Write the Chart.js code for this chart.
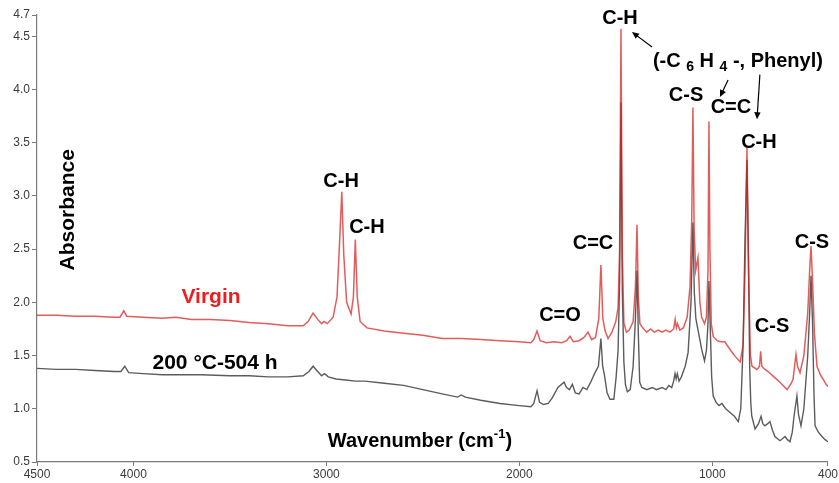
<!DOCTYPE html>
<html><head><meta charset="utf-8">
<script src="https://cdn.jsdelivr.net/npm/chart.js@4.4.1/dist/chart.umd.min.js"></script>
<style>html,body{margin:0;padding:0;background:#fff;overflow:hidden}#wrap{width:839px;height:483px;position:relative}</style>
</head><body><div id="wrap"><canvas id="c" width="839" height="483"></canvas></div>
<script>
// ---------- data ----------
const xTickValues = [4500, 4000, 3000, 2000, 1000, 400];
const yTickValues = [0.5, 1.0, 1.5, 2.0, 2.5, 3.0, 3.5, 4.0, 4.5, 4.7];
const seriesNames = ['Virgin', '200 \u00B0C-504 h'];

const virginWavenumber = [4500,4400,4300,4200,4100,4070,4050,4035,3950,3850,3780,3700,3600,3500,3400,3300,3200,3120,3095,3069,3045,3025,3012,2995,2965,2945,2932,2920,2910,2895,2872,2860,2850,2840,2825,2790,2700,2600,2500,2400,2300,2200,2100,2000,1940,1925,1908,1892,1860,1820,1780,1755,1737,1720,1690,1665,1644,1625,1605,1588,1577,1567,1555,1540,1520,1500,1488,1480,1473,1466,1458,1445,1430,1410,1398,1390,1383,1375,1360,1340,1320,1300,1280,1260,1240,1220,1200,1192,1186,1180,1168,1150,1130,1115,1106,1100,1094,1086,1074,1064,1055,1040,1030,1022,1017,1012,1005,995,975,955,935,905,880,855,840,830,820,812,802,794,768,755,749,743,727,711,680,649,612,590,581,573,566,558,545,525,505,495,488,480,470,457,440,426,410,400];
const virginAbsorbance = [1.88,1.88,1.87,1.87,1.86,1.86,1.92,1.87,1.86,1.85,1.86,1.84,1.84,1.83,1.81,1.80,1.78,1.78,1.82,1.90,1.84,1.80,1.82,1.80,1.86,2.05,2.55,3.04,2.45,2.00,1.89,2.05,2.59,2.05,1.82,1.76,1.73,1.71,1.69,1.66,1.66,1.65,1.64,1.63,1.62,1.65,1.73,1.64,1.62,1.63,1.62,1.64,1.68,1.63,1.64,1.67,1.72,1.65,1.67,1.85,2.35,1.85,1.73,1.66,1.72,1.82,1.95,2.50,4.57,2.45,1.81,1.72,1.74,1.82,2.15,2.73,2.05,1.80,1.76,1.72,1.75,1.72,1.74,1.72,1.74,1.72,1.75,1.84,1.76,1.80,1.74,1.76,1.86,2.15,2.80,3.83,2.70,2.30,2.42,2.00,1.86,1.80,1.86,2.30,3.70,2.50,1.80,1.68,1.64,1.63,1.63,1.55,1.49,1.44,1.60,2.30,3.45,2.30,1.50,1.40,1.37,1.40,1.54,1.40,1.37,1.35,1.30,1.25,1.18,1.24,1.28,1.40,1.51,1.40,1.34,1.50,1.90,2.30,2.53,2.20,1.70,1.40,1.32,1.28,1.23,1.21];

const agedWavenumber = [4500,4400,4300,4200,4100,4065,4045,4025,3950,3850,3750,3650,3500,3400,3300,3200,3120,3090,3069,3045,3025,3010,2990,2950,2900,2850,2800,2700,2600,2500,2400,2320,2300,2280,2200,2100,2000,1940,1925,1908,1895,1875,1850,1830,1800,1768,1755,1740,1725,1710,1690,1670,1650,1630,1610,1590,1577,1568,1558,1545,1530,1510,1498,1488,1480,1473,1466,1458,1450,1440,1425,1410,1398,1390,1383,1376,1365,1340,1310,1290,1260,1240,1225,1210,1200,1193,1187,1181,1172,1160,1140,1125,1110,1100,1093,1085,1075,1065,1055,1040,1030,1022,1017,1010,1003,995,980,965,950,930,905,885,865,852,840,830,820,812,806,800,795,778,760,747,738,727,712,701,688,675,649,635,623,610,597,585,576,561,553,540,525,505,495,488,480,472,467,450,431,415,400];
const agedAbsorbance = [1.38,1.37,1.37,1.36,1.35,1.35,1.40,1.34,1.33,1.32,1.32,1.32,1.31,1.31,1.30,1.30,1.31,1.35,1.40,1.35,1.31,1.33,1.30,1.28,1.27,1.26,1.26,1.24,1.22,1.18,1.14,1.11,1.13,1.11,1.08,1.05,1.03,1.02,1.05,1.17,1.06,1.04,1.05,1.10,1.20,1.25,1.20,1.18,1.23,1.15,1.14,1.20,1.18,1.25,1.33,1.40,1.66,1.40,1.31,1.15,1.09,1.09,1.30,1.55,2.20,3.88,2.10,1.44,1.23,1.16,1.18,1.40,1.85,2.30,1.70,1.25,1.20,1.18,1.20,1.18,1.20,1.18,1.22,1.20,1.26,1.33,1.28,1.33,1.26,1.30,1.40,1.53,2.00,2.75,2.10,1.85,1.75,1.66,1.56,1.45,1.55,1.80,2.20,1.75,1.30,1.12,1.06,1.03,1.05,1.00,0.96,0.93,0.88,1.00,1.60,2.60,3.34,2.40,1.40,1.05,0.93,0.81,0.86,0.93,0.86,0.84,0.86,0.88,0.80,0.74,0.70,0.72,0.74,0.71,0.69,0.78,0.93,1.12,0.95,0.84,1.00,1.50,1.90,2.25,1.80,1.10,0.84,0.78,0.74,0.71,0.69];

// annotation texts placed in data units
const peakLabels   = ['C-H', 'C-H', 'C=O', 'C=C', 'C-H', 'C-S', 'C=C', 'C-H', 'C-S', 'C-S'];
const peakLabelWn  = [2924, 2790, 1789, 1618, 1478, 1136, 903, 758, 690, 483];
const peakLabelAbs = [3.14, 2.70, 1.88, 2.55, 4.67, 3.94, 3.83, 3.50, 1.77, 2.56];
const groupLabelPos = [867, 4.26];
const arrowFrom = [[1312, 4.40], [918, 4.09], [753, 4.14]];
const arrowTo   = [[1416, 4.54], [960, 3.93], [768, 3.72]];
const seriesLabelPos = [[3598, 2.05], [3577, 1.43]];
const yTitlePos = [4339, 2.87];
const xTitlePos = [2515, 0.69];

// ---------- chart ----------
const FONT = '"Liberation Sans", Arial, Helvetica, sans-serif';
const toXY = (xs, ys) => xs.map((w, i) => ({x: w, y: ys[i]}));

function drawArrow(ctx, x1, y1, x2, y2) {
  const a = Math.atan2(y2 - y1, x2 - x1), h = 7, s = 3.2;
  ctx.beginPath(); ctx.moveTo(x1, y1);
  ctx.lineTo(x2 - Math.cos(a) * h * 0.8, y2 - Math.sin(a) * h * 0.8); ctx.stroke();
  ctx.beginPath(); ctx.moveTo(x2, y2);
  ctx.lineTo(x2 - h * Math.cos(a) + s * Math.sin(a), y2 - h * Math.sin(a) - s * Math.cos(a));
  ctx.lineTo(x2 - h * Math.cos(a) - s * Math.sin(a), y2 - h * Math.sin(a) + s * Math.cos(a));
  ctx.closePath(); ctx.fill();
}

function drawPieces(ctx, pieces, cx, cy) {
  let total = 0;
  pieces.forEach(p => { ctx.font = 'bold ' + p[1] + 'px ' + FONT; total += ctx.measureText(p[0]).width; });
  let x = cx - total / 2;
  ctx.textAlign = 'left';
  pieces.forEach(p => {
    ctx.font = 'bold ' + p[1] + 'px ' + FONT;
    ctx.fillText(p[0], x, cy + p[2]);
    x += ctx.measureText(p[0]).width;
  });
}

const annotPlugin = {
  id: 'annot',
  afterDatasetsDraw(chart) {
    const {ctx, scales: {x, y}} = chart;
    const px = w => x.getPixelForValue(w), py = v => y.getPixelForValue(v);
    ctx.save();
    ctx.fillStyle = '#000'; ctx.strokeStyle = '#000'; ctx.lineWidth = 1.2;
    ctx.textAlign = 'center'; ctx.textBaseline = 'middle';
    ctx.font = 'bold 20px ' + FONT;
    peakLabels.forEach((t, i) => ctx.fillText(t, px(peakLabelWn[i]), py(peakLabelAbs[i])));

    drawPieces(ctx, [['(-C ', 20, 0], ['6', 14, 5], [' H ', 20, 0], ['4', 14, 5], [' -, Phenyl)', 20, 0]],
      px(groupLabelPos[0]), py(groupLabelPos[1]));
    arrowFrom.forEach((f, i) => drawArrow(ctx, px(f[0]), py(f[1]), px(arrowTo[i][0]), py(arrowTo[i][1])));

    ctx.textAlign = 'center';
    ctx.font = 'bold 21px ' + FONT;
    ctx.fillStyle = '#ee1c1c';
    ctx.fillText(seriesNames[0], px(seriesLabelPos[0][0]), py(seriesLabelPos[0][1]));
    ctx.fillStyle = '#000';
    ctx.fillText(seriesNames[1], px(seriesLabelPos[1][0]), py(seriesLabelPos[1][1]));

    ctx.save();
    ctx.translate(px(yTitlePos[0]), py(yTitlePos[1]));
    ctx.rotate(-Math.PI / 2);
    ctx.font = 'bold 21px ' + FONT;
    ctx.fillText('Absorbance', 0, 0);
    ctx.restore();
    drawPieces(ctx, [['Wavenumber (cm', 20, 0], ['-1', 13, -7], [')', 20, 0]], px(xTitlePos[0]), py(xTitlePos[1]));
    ctx.restore();
  }
};

const axisColor = '#7a7a7a';
new Chart(document.getElementById('c'), {
  type: 'line',
  data: {
    datasets: [
      {label: seriesNames[0], data: toXY(virginWavenumber, virginAbsorbance),
       borderColor: 'rgba(214,30,30,0.72)', borderWidth: 1.5, pointRadius: 0, tension: 0, fill: false},
      {label: seriesNames[1], data: toXY(agedWavenumber, agedAbsorbance),
       borderColor: '#5c5c5c', borderWidth: 1.4, pointRadius: 0, tension: 0, fill: false}
    ]
  },
  options: {
    responsive: false, animation: false, devicePixelRatio: 1,
    layout: {padding: {top: 15, right: 11, left: 0, bottom: 0}},
    plugins: {legend: {display: false}, tooltip: {enabled: false}},
    scales: {
      x: {
        type: 'linear', reverse: true, min: 400, max: 4500,
        afterBuildTicks: s => { s.ticks = xTickValues.map(v => ({value: v})); },
        afterFit: s => { s.height = 21; },
        ticks: {callback: v => String(v), font: {family: FONT, size: 12}, color: '#3a3a3a', padding: 1, maxRotation: 0, autoSkip: false},
        grid: {drawOnChartArea: false, drawTicks: true, tickLength: 4, color: axisColor},
        border: {display: true, color: axisColor, width: 1.2},
        title: {display: false}
      },
      y: {
        type: 'linear', min: 0.5, max: 4.7,
        afterBuildTicks: s => { s.ticks = yTickValues.map(v => ({value: v})); },
        afterFit: s => { s.width = 37; },
        ticks: {callback: v => Number(v).toFixed(1), font: {family: FONT, size: 12}, color: '#3a3a3a', padding: 2, autoSkip: false},
        grid: {drawOnChartArea: false, drawTicks: true, tickLength: 5, color: axisColor},
        border: {display: true, color: axisColor, width: 1.2},
        title: {display: false}
      }
    }
  },
  plugins: [annotPlugin]
});
</script></body></html>
